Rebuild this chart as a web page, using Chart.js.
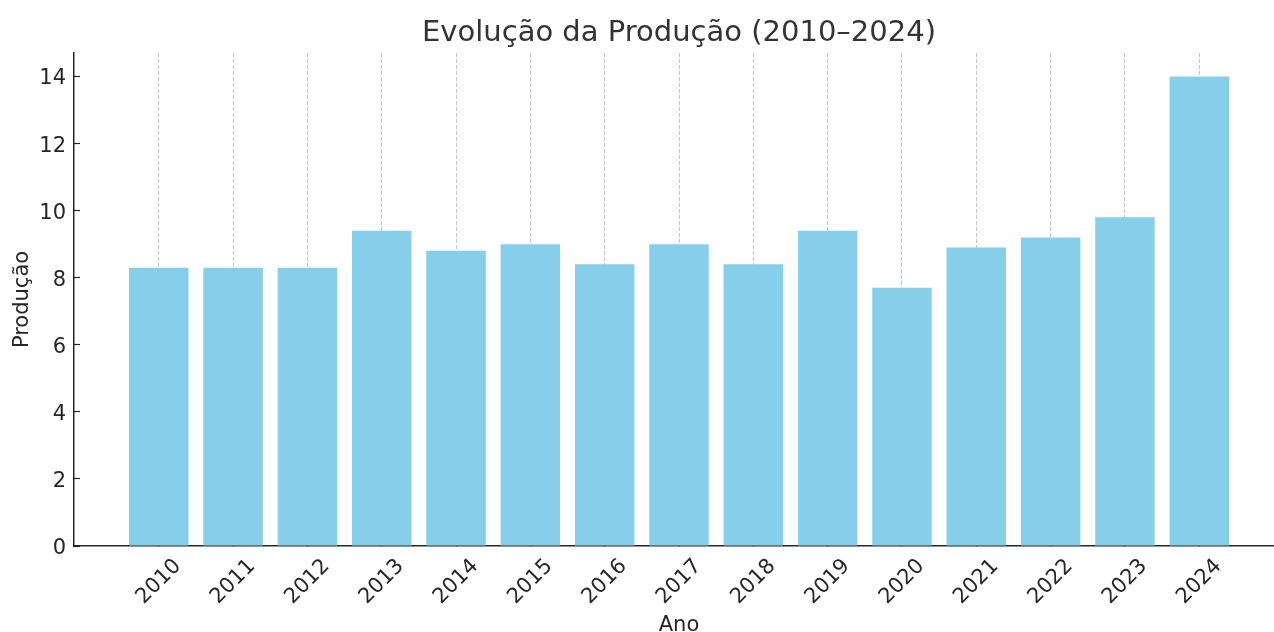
<!DOCTYPE html>
<html lang="pt">
<head>
<meta charset="utf-8">
<title>Evolução da Produção (2010–2024)</title>
<script src="https://cdn.jsdelivr.net/npm/chart.js@4/dist/chart.umd.min.js"></script>
<style>
    html, body { margin: 0; padding: 0; background: #fff; overflow: hidden; }
    /* the axes run a little past the right edge of the picture, as in the original */
    #wrap { width: 1284px; height: 632px; position: relative; }
</style>
</head>
<body>
<div id="wrap"><canvas id="producaoChart"></canvas></div>
<script>
// Dados
const anos = [2010, 2011, 2012, 2013, 2014, 2015, 2016, 2017, 2018, 2019, 2020, 2021, 2022, 2023, 2024];
const producao = [8.3, 8.3, 8.3, 9.4, 8.8, 9.0, 8.4, 9.0, 8.4, 9.4, 7.7, 8.9, 9.2, 9.8, 14.0];
const yTicks = [0, 2, 4, 6, 8, 10, 12, 14];

const textColor = '#262626';
const fontFamily = '"DejaVu Sans", sans-serif';

Chart.defaults.font.family = fontFamily;
Chart.defaults.color = textColor;

const ctx = document.getElementById('producaoChart').getContext('2d');

new Chart(ctx, {
    type: 'bar',
    data: {
        labels: anos,
        datasets: [{
            label: 'Produção',
            data: producao,
            backgroundColor: '#87CEEB',
            borderWidth: 0,
            barPercentage: 0.8,
            categoryPercentage: 1.0
        }]
    },
    options: {
        responsive: true,
        maintainAspectRatio: false,
        animation: false,
        devicePixelRatio: 1,
        layout: { padding: 0 },
        plugins: {
            legend: { display: false },
            tooltip: { enabled: false },
            title: {
                display: true,
                text: 'Evolução da Produção (2010–2024)',
                fullSize: false,
                color: '#333333',
                font: { size: 29, weight: 'normal' },
                padding: { top: 15.6, bottom: 2.6 }
            }
        },
        scales: {
            x: {
                type: 'linear',
                offset: false,
                min: anos[0] - 1.14,
                max: anos[anos.length - 1] + 1.14,
                z: 1,
                afterBuildTicks: scale => { scale.ticks = anos.map(v => ({ value: v })); },
                afterFit: scale => { scale.height = 86; },
                ticks: {
                    minRotation: 45,
                    maxRotation: 45,
                    padding: 14,
                    labelOffset: 19,
                    font: { size: 21 },
                    color: textColor,
                    callback: v => String(v)
                },
                grid: {
                    offset: false,
                    color: '#c4c4c4',
                    lineWidth: 1,
                    drawTicks: true,
                    tickLength: -6,
                    tickColor: textColor,
                    tickWidth: 1.2,
                    tickBorderDash: []
                },
                border: { display: true, color: textColor, width: 1.5, dash: [4, 2] },
                title: {
                    display: true,
                    text: 'Ano',
                    font: { size: 21 },
                    color: textColor,
                    padding: { top: 0, bottom: -6.5 }
                }
            },
            y: {
                min: 0,
                max: 14.7,
                afterBuildTicks: scale => { scale.ticks = yTicks.map(v => ({ value: v })); },
                afterFit: scale => { scale.width = 74; },
                ticks: {
                    padding: 14,
                    labelOffset: 2.5,
                    font: { size: 21 },
                    color: textColor,
                    callback: v => String(v)
                },
                grid: {
                    drawOnChartArea: false,
                    drawTicks: true,
                    tickLength: -6,
                    tickColor: textColor,
                    tickWidth: 1.2
                },
                border: { display: true, color: textColor, width: 1.5 },
                title: {
                    display: true,
                    text: 'Produção',
                    font: { size: 21 },
                    color: textColor,
                    padding: { top: 10.4, bottom: 0 }
                }
            }
        }
    }
});
</script>
</body>
</html>
